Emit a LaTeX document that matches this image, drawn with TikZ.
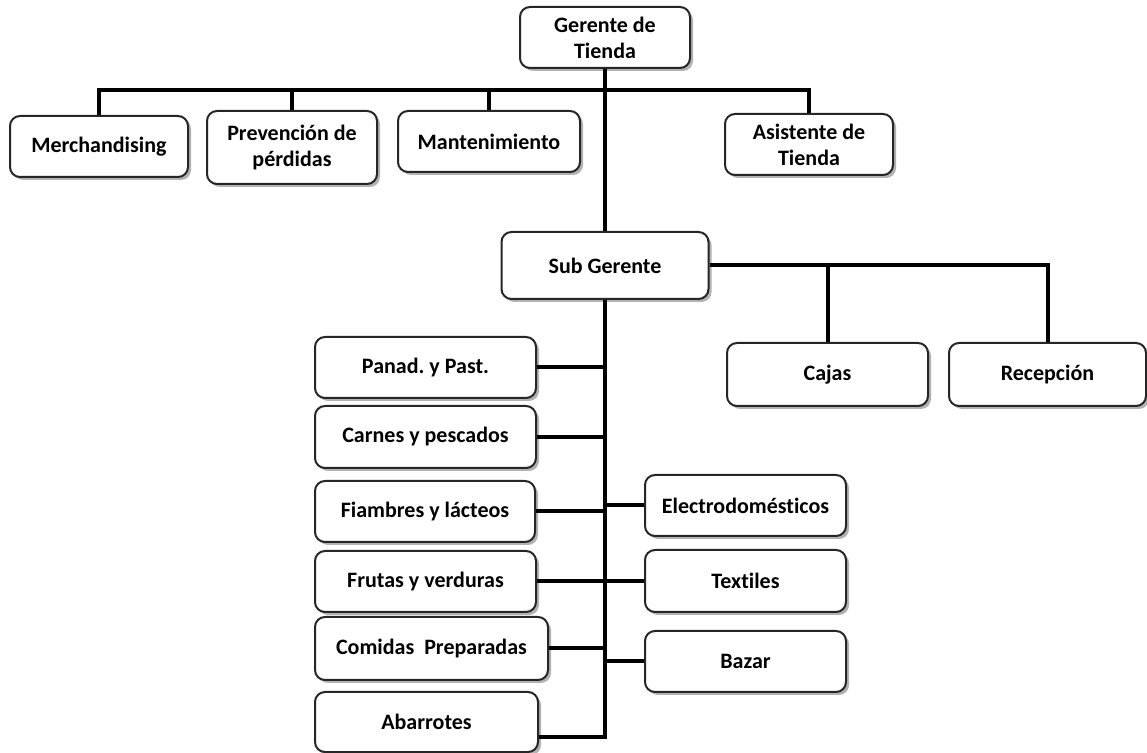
\documentclass[tikz,border=0pt]{standalone}
\usepackage{fontspec}
\setmainfont[Ligatures=NoCommon]{Carlito}
\usetikzlibrary{shadows}
\frenchspacing

\begin{document}
\begin{tikzpicture}[x=0.5pt,y=-0.5pt,
  puesto/.style={draw=black!85,line width=1pt,rounded corners=5pt,fill=white,
    align=center,inner sep=0pt,font=\bfseries\fontsize{11}{13}\selectfont,
    drop shadow={shadow xshift=1.5pt,shadow yshift=-1.5pt,fill=black,opacity=.3}},
  linea/.style={line width=2pt}]
  \useasboundingbox (0,0) rectangle (1147,753);

  \node[puesto,minimum width=85pt,minimum height=30.5pt] (gerente) at (605,37.5) {Gerente de\\Tienda};
  \node[puesto,minimum width=89pt,minimum height=30.5pt] (merch) at (99,146.5) {Merchandising};
  \node[puesto,minimum width=85pt,minimum height=36.5pt] (prev) at (292,147.5) {Prevención de\\pérdidas};
  \node[puesto,minimum width=91pt,minimum height=30.5pt] (mant) at (489,141.5) {Mantenimiento};
  \node[puesto,minimum width=84pt,minimum height=30.5pt] (asist) at (809,144.5) {Asistente de\\Tienda};
  \node[puesto,minimum width=103.5pt,minimum height=33.5pt] (sub) at (605,265.5) {Sub Gerente};
  \node[puesto,minimum width=100.5pt,minimum height=31.5pt] (cajas) at (827.5,374.5) {Cajas};
  \node[puesto,minimum width=98.5pt,minimum height=31.5pt] (recep) at (1047.5,374.5) {Recepción};

  \node[puesto,minimum width=110.5pt,minimum height=30.5pt] (panad) at (425.5,367.5) {Panad. y Past.};
  \node[puesto,minimum width=110.5pt,minimum height=31pt] (carnes) at (425.5,437) {Carnes y pescados};
  \node[puesto,minimum width=110pt,minimum height=30.5pt] (fiamb) at (425,511.5) {Fiambres y lácteos};
  \node[puesto,minimum width=110.5pt,minimum height=30.5pt] (frutas) at (425.5,581.5) {Frutas y verduras};
  \node[puesto,minimum width=116.5pt,minimum height=31.5pt] (comidas) at (431.5,648.5) {Comidas\ \ Preparadas};
  \node[puesto,minimum width=111.5pt,minimum height=30pt] (abarr) at (426.5,722) {Abarrotes};

  \node[puesto,minimum width=100.5pt,minimum height=30.5pt] (electro) at (745.5,505.5) {Electrodomésticos};
  \node[puesto,minimum width=100.5pt,minimum height=31pt] (textiles) at (745.5,581) {Textiles};
  \node[puesto,minimum width=100.5pt,minimum height=30.5pt] (bazar) at (745.5,661.5) {Bazar};

  \coordinate (barra) at (605,90);
  \draw[linea] (gerente) -- (sub);
  \draw[linea] (merch.north) |- (barra) -| (asist.north);
  \draw[linea] (prev.north) -- (prev.north |- barra);
  \draw[linea] (mant.north) -- (mant.north |- barra);

  \draw[linea] (sub.east) -| (recep.north);
  \draw[linea] (sub.east) -| (cajas.north);

  \draw[linea] (sub.south) |- ([yshift=-7.5pt]abarr.east);
  \foreach \n in {panad,carnes,fiamb,frutas,comidas,electro,textiles,bazar}
    \draw[linea] (\n) -- (\n -| sub.south);
\end{tikzpicture}
\end{document}
